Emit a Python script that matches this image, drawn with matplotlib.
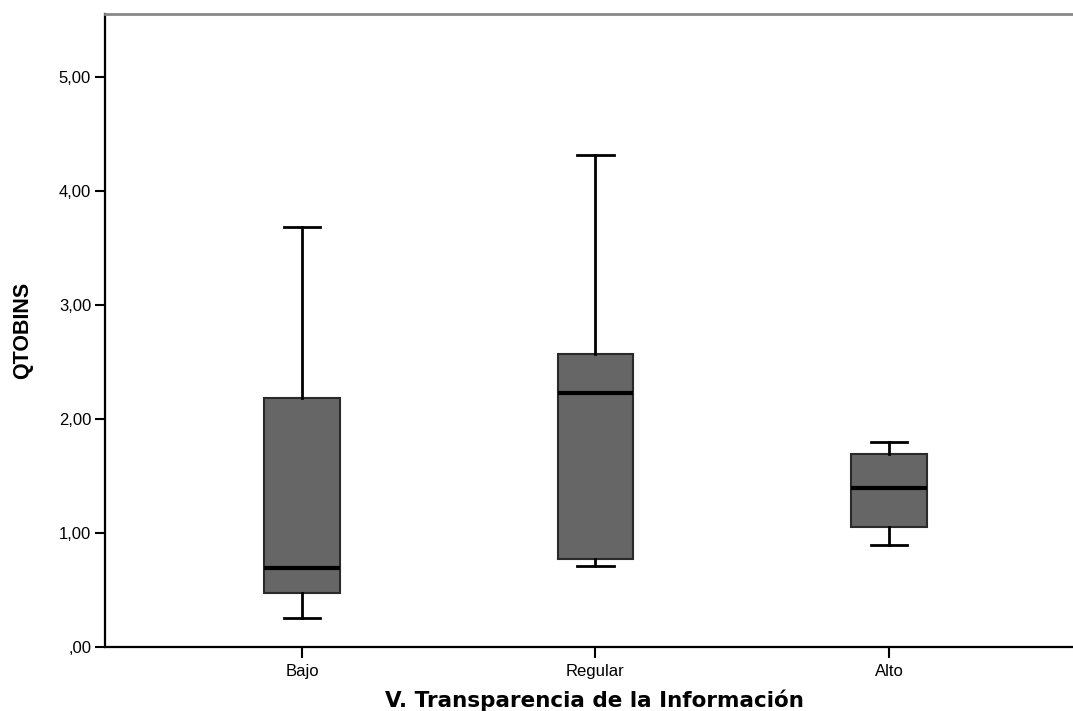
import matplotlib.pyplot as plt
from matplotlib.ticker import FuncFormatter

plt.rcParams['font.family'] = ['Liberation Sans', 'DejaVu Sans']

categories = ["Bajo", "Regular", "Alto"]
whislo = [0.25, 0.71, 0.89]
q1 = [0.47, 0.77, 1.05]
med = [0.69, 2.23, 1.39]
q3 = [2.18, 2.57, 1.69]
whishi = [3.68, 4.31, 1.80]
yticks = [0, 1, 2, 3, 4, 5]

stats = []
for i, name in enumerate(categories):
    stats.append(dict(label=name, whislo=whislo[i], q1=q1[i], med=med[i],
                      q3=q3[i], whishi=whishi[i], fliers=[]))

fig = plt.figure(figsize=(10.73, 7.11), dpi=100)
ax = fig.add_axes([105 / 1073, 1 - 647 / 711, 968 / 1073, 633 / 711])

ax.bxp(stats, positions=[1, 2, 3], widths=0.256, patch_artist=True,
       boxprops=dict(facecolor="#666666", edgecolor="#2a2a2a", linewidth=1.5),
       medianprops=dict(color="black", linewidth=3),
       whiskerprops=dict(color="black", linewidth=2),
       capprops=dict(color="black", linewidth=2),
       capwidths=0.125)

ax.set_xlim(0.329, 3.627)
ax.set_ylim(0, 5.55)
ax.set_yticks(yticks)
ax.yaxis.set_major_formatter(FuncFormatter(
    lambda v, p: ",00" if v == 0 else f"{v:.2f}".replace(".", ",")))
ax.tick_params(axis="both", labelsize=12, width=1.5, length=7, color="black",
               pad=3)
ax.tick_params(axis="x", length=8, pad=4)

for s in ["left", "bottom"]:
    ax.spines[s].set_linewidth(1.6)
ax.spines["top"].set_color("#888888")
ax.spines["top"].set_linewidth(2)
ax.spines["right"].set_visible(False)

# axis titles placed in figure coordinates
fig.text(23 / 1073, 1 - 330 / 711, "QTOBINS", fontsize=15.5, fontweight="bold",
         rotation=90, ha="center", va="center")
fig.text(594 / 1073, 1 - 700 / 711, "V. Transparencia de la Información",
         fontsize=15.5, fontweight="bold", family="DejaVu Sans",
         ha="center", va="center")

fig.savefig("out.png", dpi=100)
